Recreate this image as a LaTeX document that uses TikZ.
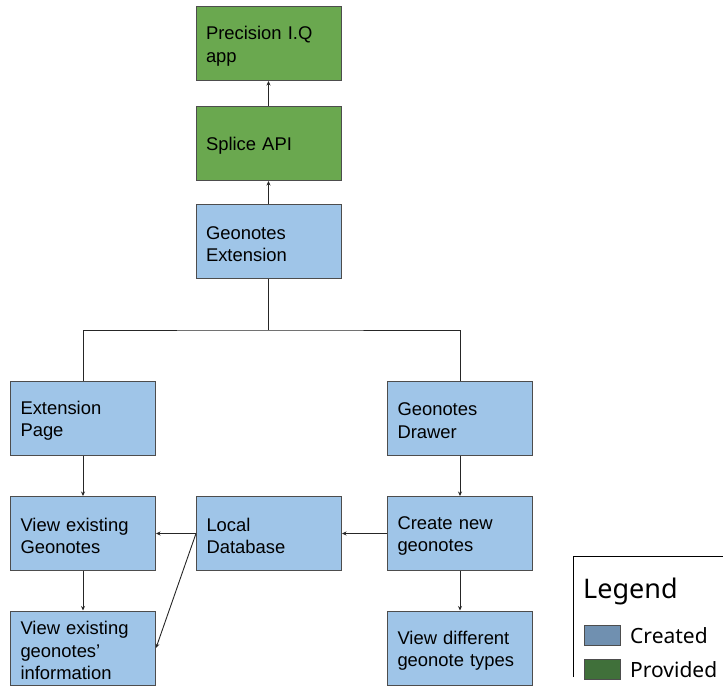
\documentclass[tikz,border=0pt]{standalone}
\usepackage{fontspec}
\setmainfont{Liberation Sans}
\newfontfamily\legendfont{Noto Sans}
\usetikzlibrary{arrows.meta}
\definecolor{boxblue}{HTML}{9FC5E8}
\definecolor{boxgreen}{HTML}{6AA84F}
\definecolor{boxline}{HTML}{4D4D4D}
\definecolor{swblue}{HTML}{7090B0}
\definecolor{swgreen}{HTML}{40703A}
\tikzset{
  box/.style={draw=boxline, line width=1pt, minimum width=145pt, minimum height=74pt,
    text width=125pt, inner xsep=10pt, align=left,
    execute at end node={\par\vspace*{-5pt}},
    font=\fontsize{18.4}{22.5}\selectfont},
  created/.style={box, fill=boxblue},
  provided/.style={box, fill=boxgreen},
  conn/.style={draw=black!85, line width=0.9pt},
  arr/.style={conn, -{Stealth[length=4.5pt,width=4pt]}},
  swatch/.style={draw=boxline, line width=1pt, minimum width=36pt, minimum height=20pt, inner sep=0pt},
  legtext/.style={font=\legendfont\fontsize{21}{24}\selectfont, anchor=west, inner sep=0pt}
}
\begin{document}
\begin{tikzpicture}[x=1pt,y=-1pt]
\useasboundingbox (0,0) rectangle (723,687);
\node[provided] (A) at (268.5,43.5) {Precision I.Q\\app};
\node[provided] (B) at (268.5,143.5) {Splice API};
\node[created] (C) at (268.5,241.5) {Geonotes\\Extension};
\node[created] (D) at (83,418) {Extension\\Page};
\node[created] (E) at (460,418) {Geonotes\\Drawer};
\node[created] (F) at (83,533.5) {View existing\\Geonotes};
\node[created] (G) at (83,648) {View existing\\geonotes'\\information};
\node[created] (H) at (269,533.5) {Local\\Database};
\node[created] (I) at (460,533.5) {Create new\\geonotes};
\node[created] (J) at (460,648) {View different\\geonote types};
\coordinate (j) at (268.5,330);
\draw[conn] (C.south) -- (j);
\draw[conn] (D.north) |- (j) -| (E.north);
\draw[arr] (B) -- (A);
\draw[arr] (C) -- (B);
\draw[arr] (D) -- (F);
\draw[arr] (F) -- (G);
\draw[arr] (E) -- (I);
\draw[arr] (I) -- (J);
\draw[arr] (I.west) -- (H.east);
\draw[arr] (H.west) -- (F.east);
\draw[arr] (H.west) -- (G.east);
% legend
\coordinate (lg1) at (573,677);
\coordinate (lg2) at (573,556.5);
\coordinate (lg3) at (723,556.5);
\draw[line width=1pt, black] (lg1) -- (lg2) -- (lg3);
\node[font=\legendfont\fontsize{27}{30}\selectfont, anchor=base west, inner sep=0pt] (lt) at (583,598) {Legend};
\node[swatch, fill=swblue] (s1) at (602,635.5) {};
\node[swatch, fill=swgreen] (s2) at (602,669) {};
\node[legtext] (t1) at (630,636) {Created};
\node[legtext] (t2) at (630,669.5) {Provided};
\end{tikzpicture}
\end{document}
